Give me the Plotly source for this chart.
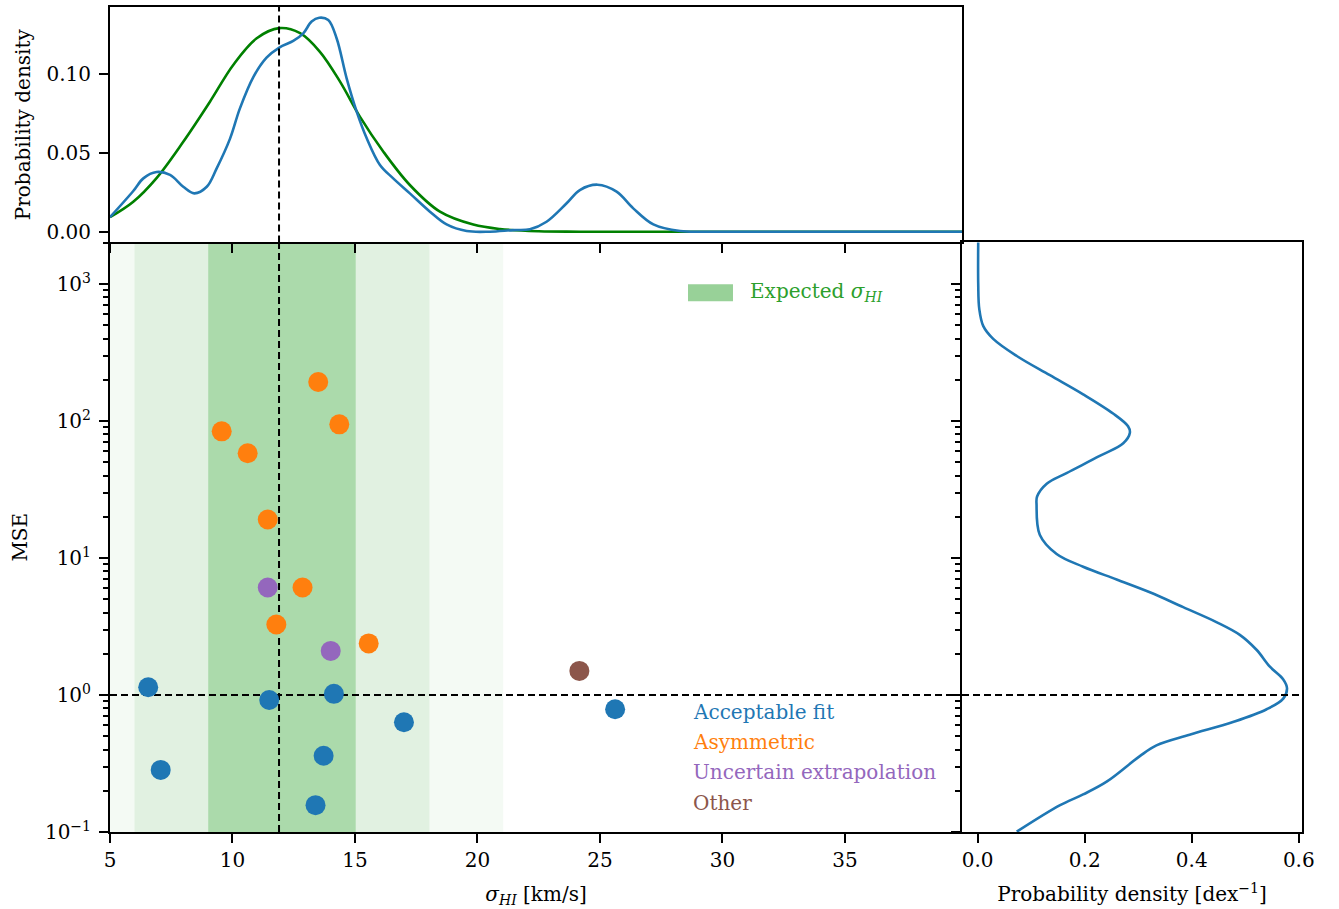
import plotly.graph_objects as go

# ---------------- data ----------------
acceptable_x = [6.56, 7.07, 11.50, 14.14, 17.00, 13.72, 13.39, 25.62]
acceptable_y = [1.14, 0.284, 0.92, 1.02, 0.633, 0.36, 0.157, 0.787]
asym_x = [13.50, 14.36, 9.56, 10.62, 11.44, 12.86, 11.79, 15.56]
asym_y = [192.7, 94.6, 84.1, 58.2, 19.1, 6.09, 3.27, 2.38]
uncertain_x = [11.44, 14.01]
uncertain_y = [6.09, 2.10]
other_x = [24.16]
other_y = [1.50]

# top panel: KDE of sigma_HI (blue) and expected distribution (green)
kde_sigma = [5.0, 5.95, 6.36, 6.9, 7.45, 7.99, 8.44, 8.95, 9.35, 9.9, 10.3, 10.85,
             11.39, 11.91, 12.48, 12.89, 13.23, 13.54, 13.91, 14.25, 14.66, 15.07,
             15.48, 16.02, 16.56, 17.24, 18.06, 18.74, 19.56, 20.5, 21.45, 22.14,
             22.82, 23.64, 24.18, 24.9, 25.68, 26.36, 27.18, 28.27, 29.6, 39.8]
kde_density = [0.0092, 0.0258, 0.0338, 0.0378, 0.036, 0.0285, 0.0243, 0.0285, 0.040,
               0.059, 0.078, 0.098, 0.1103, 0.1167, 0.1209, 0.1257, 0.1332, 0.1356,
               0.1342, 0.1226, 0.0972, 0.0761, 0.0592, 0.0423, 0.0338, 0.0243, 0.0127,
               0.0046, 0.0004, 0.0, 0.001, 0.0015, 0.0063, 0.018, 0.0264, 0.0298,
               0.0254, 0.0148, 0.0046, 0.0004, 0.0, 0.0]
exp_sigma = [5.0, 5.95, 6.9, 7.99, 9.08, 10.03, 10.99, 11.91, 12.76, 13.57, 14.39,
             15.2, 16.16, 17.24, 18.47, 19.83, 20.92, 22.5, 24.2, 39.8]
exp_density = [0.0092, 0.019, 0.034, 0.057, 0.0824, 0.1057, 0.1226, 0.129, 0.1258,
               0.114, 0.0951, 0.0729, 0.0507, 0.0296, 0.0127, 0.0045, 0.0017, 0.0003,
               0.0, 0.0]

# right panel: KDE of MSE (per dex)
mse_kde_mse = [2050, 1000, 656, 493, 398, 298.5, 216, 156.7, 113.5, 91.6, 82.2, 68.9,
               55.6, 41.7, 34.9, 28.1, 24.4, 14.8, 10.7, 8.64, 6.97, 5.62, 4.38, 3.41,
               2.75, 2.14, 1.61, 1.30, 1.12, 0.942, 0.787, 0.635, 0.513, 0.4285,
               0.358, 0.233, 0.188, 0.157, 0.1005]
mse_kde_density = [0.001, 0.001, 0.003, 0.0105, 0.029, 0.073, 0.135, 0.197, 0.253,
                   0.281, 0.2844, 0.272, 0.228, 0.166, 0.129, 0.111, 0.110, 0.116,
                   0.1475, 0.197, 0.2595, 0.3217, 0.384, 0.446, 0.4898, 0.521, 0.546,
                   0.571, 0.578, 0.571, 0.540, 0.477, 0.396, 0.334, 0.303, 0.241,
                   0.197, 0.154, 0.073]

expected_mean = 12.02
expected_sigma = 3.01
median_sigma = 11.9
mse_ref = 1.0

main_y_ticks = [0.1, 1, 10, 100, 1000]
main_y_ticktext = ["10<sup>−1</sup>", "10<sup>0</sup>", "10<sup>1</sup>",
                   "10<sup>2</sup>", "10<sup>3</sup>"]
main_x_ticks = [5, 10, 15, 20, 25, 30, 35]
top_y_ticks = [0.0, 0.05, 0.10]
right_x_ticks = [0.0, 0.2, 0.4, 0.6]
minor_log = [m * 10 ** e for e in range(-1, 4) for m in range(2, 10)]

legend_labels = ["Acceptable fit", "Asymmetric", "Uncertain extrapolation", "Other"]

# ---------------- style ----------------
C_BLUE = "#1f77b4"
C_ORANGE = "#ff7f0e"
C_PURPLE = "#9467bd"
C_BROWN = "#8c564b"
C_GREEN_LINE = "#008000"
C_GREEN_TXT = "#2ca02c"
band_colors = ["#f4faf4", "#e1f1e1", "#abdaab"]
FONT = "DejaVu Serif"
FS = 20

fig = go.Figure()

msize = 20
for xs, ys, col, name in [(acceptable_x, acceptable_y, C_BLUE, legend_labels[0]),
                          (asym_x, asym_y, C_ORANGE, legend_labels[1]),
                          (uncertain_x, uncertain_y, C_PURPLE, legend_labels[2]),
                          (other_x, other_y, C_BROWN, legend_labels[3])]:
    fig.add_trace(go.Scatter(x=xs, y=ys, mode="markers", name=name,
                             marker=dict(color=col, size=msize, line=dict(width=0)),
                             xaxis="x", yaxis="y", showlegend=False))

fig.add_trace(go.Scatter(x=exp_sigma, y=exp_density, mode="lines",
                         line=dict(color=C_GREEN_LINE, width=2.6, shape="spline"),
                         xaxis="x2", yaxis="y2", showlegend=False))
fig.add_trace(go.Scatter(x=kde_sigma, y=kde_density, mode="lines",
                         line=dict(color=C_BLUE, width=2.6, shape="spline"),
                         xaxis="x2", yaxis="y2", showlegend=False))
fig.add_trace(go.Scatter(x=mse_kde_density, y=mse_kde_mse, mode="lines",
                         line=dict(color=C_BLUE, width=2.6, shape="spline"),
                         xaxis="x3", yaxis="y3", showlegend=False))

shapes = []
for k, col in zip([3, 2, 1], band_colors):
    shapes.append(dict(type="rect", xref="x", yref="y domain",
                       x0=expected_mean - k * expected_sigma,
                       x1=expected_mean + k * expected_sigma,
                       y0=0, y1=1, fillcolor=col, line=dict(width=0), layer="below"))
dash = dict(color="black", width=2, dash="7px,4px")
shapes.append(dict(type="line", xref="x", yref="y domain", x0=median_sigma,
                   x1=median_sigma, y0=0, y1=1, line=dash, layer="below"))
shapes.append(dict(type="line", xref="x2", yref="y2 domain", x0=median_sigma,
                   x1=median_sigma, y0=0, y1=1, line=dash, layer="above"))
shapes.append(dict(type="line", xref="x domain", yref="y", x0=0, x1=1,
                   y0=mse_ref, y1=mse_ref, line=dash, layer="below"))
shapes.append(dict(type="line", xref="x3 domain", yref="y3", x0=0, x1=1,
                   y0=mse_ref, y1=mse_ref, line=dash, layer="above"))
# legend patch for expected band
shapes.append(dict(type="rect", xref="x domain", yref="y domain",
                   x0=0.6784, x1=0.7312, y0=0.9002, y1=0.9289,
                   fillcolor="#98d198", line=dict(width=0), layer="above"))

annotations = [dict(xref="x domain", yref="y domain", x=0.7488, y=0.9154,
                    xanchor="left", yanchor="middle", showarrow=False,
                    text="Expected <i>σ</i><sub><i>HI</i></sub>",
                    font=dict(family=FONT, size=FS, color=C_GREEN_TXT))]
for lab, col, yy in zip(legend_labels, [C_BLUE, C_ORANGE, C_PURPLE, C_BROWN],
                        [0.2036, 0.1528, 0.102, 0.0496]):
    annotations.append(dict(xref="x domain", yref="y domain", x=0.682, y=yy,
                            xanchor="left", yanchor="middle", showarrow=False,
                            text=lab, font=dict(family=FONT, size=FS, color=col)))

tickfont = dict(family=FONT, size=FS, color="black")
common = dict(showline=True, linecolor="black", linewidth=2, mirror=True,
              ticks="outside", ticklen=9, tickwidth=2, tickcolor="black",
              showgrid=False, zeroline=False, tickfont=tickfont)
common_nomirror = dict(common, mirror=False)

XD_MAIN = [0, 0.71477]
XD_RIGHT = [0.71477, 1.0]
YD_MAIN = [0, 0.71463]
YD_TOP = [0.71463, 1.0]
minor = dict(ticks="outside", ticklen=5, tickwidth=1.5, tickcolor="black",
             tickvals=minor_log)

fig.update_layout(
    width=1339, height=909,
    margin=dict(l=110, r=37, t=5, b=77),
    paper_bgcolor="white", plot_bgcolor="white",
    font=dict(family=FONT, size=FS, color="black"),
    xaxis=dict(domain=XD_MAIN, anchor="y", range=[5, 39.78], tickvals=main_x_ticks,
               title=dict(text="<i>σ</i><sub><i>HI</i></sub> [km/s]",
                          font=dict(family=FONT, size=FS), standoff=16),
               **common_nomirror),
    yaxis=dict(domain=YD_MAIN, anchor="x", type="log", range=[-1, 3.304],
               tickvals=main_y_ticks, ticktext=main_y_ticktext, minor=minor,
               ticklabelstandoff=4,
               title=dict(text="MSE", font=dict(family=FONT, size=FS), standoff=12),
               **common_nomirror),
    xaxis2=dict(domain=XD_MAIN, anchor="y2", range=[5, 39.78], tickvals=main_x_ticks,
                showticklabels=False, **common),
    yaxis2=dict(domain=YD_TOP, anchor="x2", range=[-0.0068, 0.1424],
                tickvals=top_y_ticks, tickformat=".2f", ticklabelstandoff=4,
                title=dict(text="Probability density", font=dict(family=FONT, size=FS),
                           standoff=10),
                **common),
    xaxis3=dict(domain=XD_RIGHT, anchor="y3", range=[-0.0293, 0.606],
                tickvals=right_x_ticks, tickformat=".1f",
                title=dict(text="Probability density [dex<sup>−1</sup>]",
                           font=dict(family=FONT, size=FS), standoff=16),
                **common),
    yaxis3=dict(domain=YD_MAIN, anchor="x3", type="log", range=[-1, 3.304],
                tickvals=main_y_ticks, showticklabels=False, minor=minor, **common),
    shapes=shapes,
    annotations=annotations,
)

fig.write_html("out.html", config={"displayModeBar": False},
               post_script="document.body.style.margin='0';document.body.style.padding='0';")
